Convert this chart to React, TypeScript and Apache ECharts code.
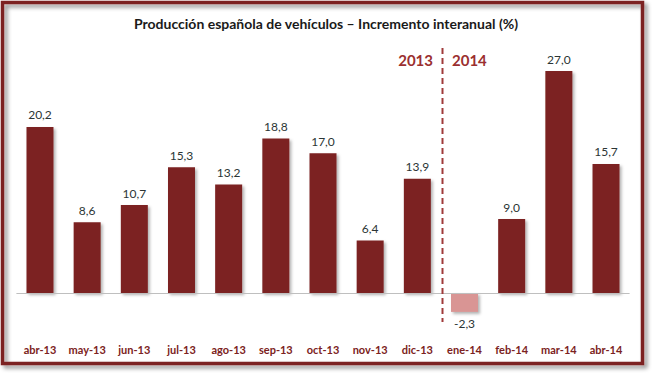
import React, { useEffect, useRef } from "react";
import * as echarts from "echarts";

const categories = ["abr-13", "may-13", "jun-13", "jul-13", "ago-13", "sep-13", "oct-13", "nov-13", "dic-13", "ene-14", "feb-14", "mar-14", "abr-14"];
const values = [20.2, 8.6, 10.7, 15.3, 13.2, 18.8, 17.0, 6.4, 13.9, -2.3, 9.0, 27.0, 15.7];
const yearLabels = ["2013", "2014"];
const titleText = "Producción española de vehículos – Incremento interanual (%)";

const DARK = "#7b2221";
const NEG = "#d99594";
const FONT = "Lato, 'Open Sans', sans-serif";

export default function App() {
  const ref = useRef<HTMLDivElement>(null);
  useEffect(() => {
    if (!ref.current) return;
    const chart = echarts.init(ref.current, null, { renderer: "svg" });
    const data = values.map((v) => ({
      value: v,
      itemStyle: { color: v < 0 ? NEG : DARK },
      label: { position: v < 0 ? "bottom" : "top" },
    }));
    chart.setOption({
      animation: false,
      backgroundColor: "#ffffff",
      title: {
        text: titleText,
        left: "center",
        top: 11,
        textStyle: { fontFamily: FONT, fontWeight: "bold", fontSize: 14, color: "#1a1a1a" },
      },
      grid: { left: 16.4, right: 22.4, top: 46.4, bottom: 40.9, containLabel: false },
      xAxis: {
        type: "category",
        data: categories,
        axisLine: { show: false, onZero: false },
        axisTick: { show: false },
        axisLabel: {
          margin: 10,
          color: DARK,
          fontFamily: FONT,
          fontWeight: "bold",
          fontSize: 11,
          interval: 0,
        },
      },
      yAxis: {
        type: "value",
        min: -5,
        max: 30,
        show: false,
        splitLine: { show: false },
      },
      series: [
        {
          type: "bar",
          data,
          barWidth: 27,
          itemStyle: {
            shadowBlur: 3,
            shadowOffsetX: 2,
            shadowOffsetY: 2,
            shadowColor: "rgba(0,0,0,0.3)",
          },
          label: {
            show: true,
            distance: 6,
            color: "#2b3535",
            fontFamily: FONT,
            fontSize: 12,
            formatter: (p: any) => p.value.toFixed(1).replace(".", ","),
          },
          markLine: {
            silent: true,
            symbol: "none",
            label: { show: false },
            lineStyle: { color: "#bfbfbf", width: 1, type: "solid" },
            data: [{ yAxis: 0 }],
          },
        },
      ],
      graphic: [
        {
          type: "rect",
          shape: { x: 2.5, y: 2.5, width: 640, height: 361 },
          style: {
            fill: "transparent",
            stroke: DARK,
            lineWidth: 3.5,
            shadowBlur: 4,
            shadowOffsetX: 3,
            shadowOffsetY: 3,
            shadowColor: "rgba(0,0,0,0.45)",
          },
          z: 100,
        },
        {
          type: "line",
          shape: { x1: 442.5, y1: 48, x2: 442.5, y2: 322 },
          style: { stroke: "#a03a3a", lineWidth: 2, lineDash: [6, 4] },
          z: 50,
        },
        {
          type: "text",
          x: 433,
          y: 60,
          style: {
            text: yearLabels[0],
            fill: "#9b2f2f",
            font: `bold 15px ${FONT}`,
            textAlign: "right",
            textVerticalAlign: "middle",
          },
        },
        {
          type: "text",
          x: 452,
          y: 60,
          style: {
            text: yearLabels[1],
            fill: "#9b2f2f",
            font: `bold 15px ${FONT}`,
            textAlign: "left",
            textVerticalAlign: "middle",
          },
        },
      ],
    });
    return () => chart.dispose();
  }, []);
  return (
    <div
      ref={ref}
      style={{ position: "absolute", left: 0, top: 0, width: 652, height: 375, background: "#fff" }}
    />
  );
}
